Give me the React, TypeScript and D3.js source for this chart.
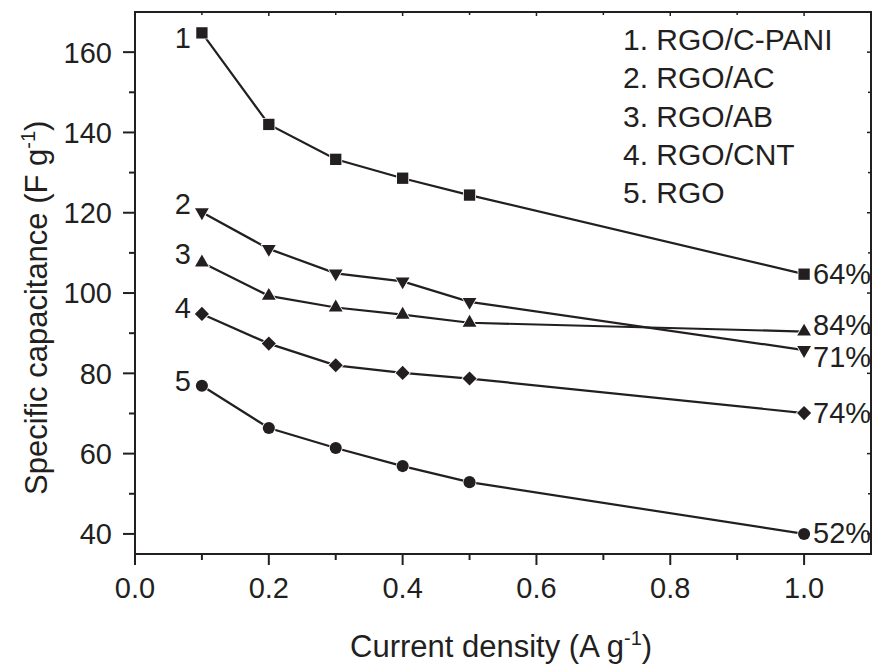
import React from "react";
import * as d3 from "d3";

const currentDensity = [0.1, 0.2, 0.3, 0.4, 0.5, 1.0];
const rgoCPani = [164.8, 142.0, 133.3, 128.6, 124.4, 104.7];
const rgoAC = [120.1, 111.0, 104.9, 102.9, 97.8, 85.8];
const rgoAB = [107.6, 99.3, 96.4, 94.6, 92.6, 90.4];
const rgoCNT = [94.8, 87.4, 82.0, 80.1, 78.7, 70.1];
const rgo = [76.9, 66.4, 61.4, 56.9, 52.9, 40.0];

const seriesNames = ["RGO/C-PANI", "RGO/AC", "RGO/AB", "RGO/CNT", "RGO"];
const seriesValues = [rgoCPani, rgoAC, rgoAB, rgoCNT, rgo];
const seriesNumbers = ["1", "2", "3", "4", "5"];
const retentionLabels = ["64%", "71%", "84%", "74%", "52%"];
const markerShapes = ["square", "triangleDown", "triangleUp", "diamond", "circle"];

const yMajorTicks = [40, 60, 80, 100, 120, 140, 160];
const yMinorTicks = [50, 70, 90, 110, 130, 150];
const xMajorTicks = [0.0, 0.2, 0.4, 0.6, 0.8, 1.0];
const xMinorTicks = [0.1, 0.3, 0.5, 0.7, 0.9];

// styling (not data)
const numberDy = [15, 1.5, 1.5, 4, 5];
const pctDy = [9.5, 16.5, 3, 9.5, 9];

const INK = "#231f20";
const FONT = "'Liberation Sans', Arial, Helvetica, sans-serif";

const W = 872;
const H = 665;
const left = 135;
const right = 871;
const top = 12;
const bottom = 554;

function markerPath(shape: string): { d: string; rot: number } {
  switch (shape) {
    case "square":
      return { d: d3.symbol().type(d3.symbolSquare).size(128)() as string, rot: 0 };
    case "triangleUp":
      return { d: d3.symbol().type(d3.symbolTriangle).size(82)() as string, rot: 0 };
    case "triangleDown":
      return { d: d3.symbol().type(d3.symbolTriangle).size(82)() as string, rot: 180 };
    case "diamond":
      return { d: d3.symbol().type(d3.symbolSquare).size(100)() as string, rot: 45 };
    default:
      return { d: d3.symbol().type(d3.symbolCircle).size(115)() as string, rot: 0 };
  }
}

export default function App() {
  const x = d3.scaleLinear().domain([0, 1.1]).range([left, right]);
  const y = d3.scaleLinear().domain([35, 170]).range([bottom, top]);
  const line = d3
    .line<number>()
    .x((_, i) => x(currentDensity[i]))
    .y((v) => y(v));

  const fmtX = d3.format(".1f");

  return (
    <svg
      width={W}
      height={H}
      style={{ position: "absolute", left: 0, top: 0, background: "#fff" }}
      fontFamily={FONT}
    >
      <rect x={0} y={0} width={W} height={H} fill="#fff" />

      {/* series lines */}
      {seriesValues.map((vals, s) => (
        <path key={"l" + s} d={line(vals) as string} fill="none" stroke={INK} strokeWidth={2.2} />
      ))}

      {/* markers */}
      {seriesValues.map((vals, s) => {
        const m = markerPath(markerShapes[s]);
        return (
          <g key={"m" + s}>
            {vals.map((v, i) => (
              <path
                key={i}
                d={m.d}
                transform={`translate(${x(currentDensity[i])},${y(v)}) rotate(${m.rot})`}
                fill={INK}
                stroke="#fff"
                strokeWidth={1.6}
                paintOrder="stroke"
              />
            ))}
          </g>
        );
      })}

      {/* series numbers */}
      {seriesValues.map((vals, s) => (
        <text
          key={"n" + s}
          x={x(currentDensity[0]) - 11}
          y={y(vals[0]) + numberDy[s]}
          textAnchor="end"
          fontSize={29}
          fill={INK}
        >
          {seriesNumbers[s]}
        </text>
      ))}

      {/* retention labels */}
      {seriesValues.map((vals, s) => (
        <text
          key={"p" + s}
          x={x(currentDensity[currentDensity.length - 1]) + 9}
          y={y(vals[vals.length - 1]) + pctDy[s]}
          fontSize={29}
          fill={INK}
        >
          {retentionLabels[s]}
        </text>
      ))}

      {/* frame */}
      <rect
        x={left}
        y={top}
        width={right - left}
        height={bottom - top}
        fill="none"
        stroke={INK}
        strokeWidth={2}
      />

      {/* y ticks */}
      {yMajorTicks.map((t) => (
        <g key={"ym" + t}>
          <line x1={left - 12} x2={left} y1={y(t)} y2={y(t)} stroke={INK} strokeWidth={2} />
          <line x1={right - 4} x2={right} y1={y(t)} y2={y(t)} stroke={INK} strokeWidth={1.5} />
          <text x={left - 23} y={y(t)} dy="0.36em" textAnchor="end" fontSize={29} fill={INK}>
            {t}
          </text>
        </g>
      ))}
      {yMinorTicks.map((t) => (
        <g key={"yn" + t}>
          <line x1={left - 6} x2={left} y1={y(t)} y2={y(t)} stroke={INK} strokeWidth={2} />
          <line x1={right - 3} x2={right} y1={y(t)} y2={y(t)} stroke={INK} strokeWidth={1.5} />
        </g>
      ))}

      {/* x ticks */}
      {xMajorTicks.map((t) => (
        <g key={"xm" + t}>
          <line x1={x(t)} x2={x(t)} y1={bottom} y2={bottom + 11} stroke={INK} strokeWidth={2} />
          <line x1={x(t)} x2={x(t)} y1={top} y2={top + 4} stroke={INK} strokeWidth={1.5} />
          <text x={x(t)} y={598} textAnchor="middle" fontSize={29} fill={INK}>
            {fmtX(t)}
          </text>
        </g>
      ))}
      {xMinorTicks.map((t) => (
        <g key={"xn" + t}>
          <line x1={x(t)} x2={x(t)} y1={bottom} y2={bottom + 6} stroke={INK} strokeWidth={2} />
          <line x1={x(t)} x2={x(t)} y1={top} y2={top + 3} stroke={INK} strokeWidth={1.5} />
        </g>
      ))}

      {/* legend */}
      {seriesNames.map((name, s) => (
        <text key={"lg" + s} x={623} y={50 + s * 38.3} fontSize={30} fill={INK}>
          {`${seriesNumbers[s]}. ${name}`}
        </text>
      ))}

      {/* axis titles */}
      <text x={350} y={657} fontSize={31} fill={INK}>
        Current density (A g
        <tspan fontSize={20} dy={-12}>
          -1
        </tspan>
        <tspan dy={12}>)</tspan>
      </text>
      <text transform="translate(47,495) rotate(-90)" fontSize={31} fill={INK}>
        Specific capacitance (F g
        <tspan fontSize={20} dy={-12}>
          -1
        </tspan>
        <tspan dy={12}>)</tspan>
      </text>
    </svg>
  );
}
